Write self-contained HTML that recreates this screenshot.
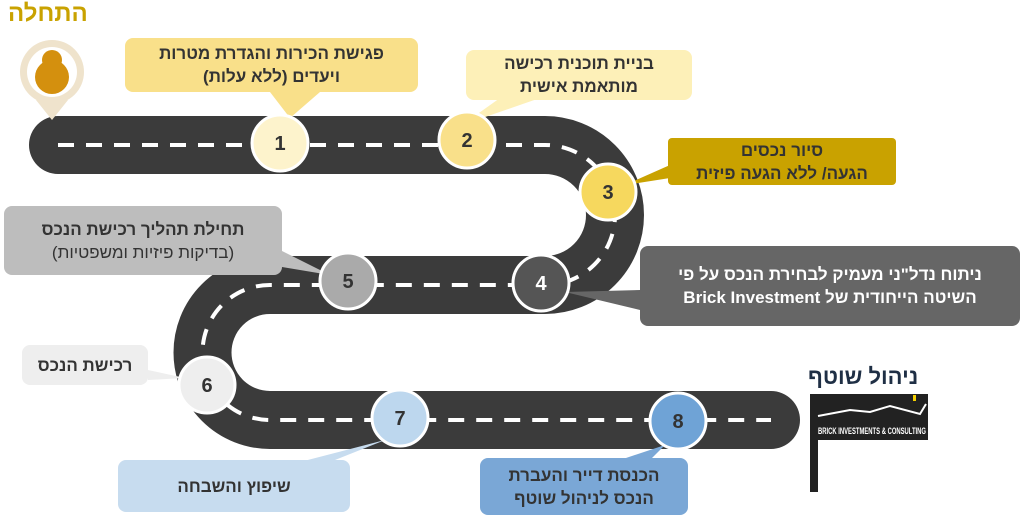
<!DOCTYPE html>
<html><head><meta charset="utf-8"><style>
body{margin:0;width:1024px;height:520px;background:#fff;overflow:hidden;position:relative;font-family:"Liberation Sans","Noto Sans CJK SC",sans-serif}
.b{position:absolute;border-radius:8px;display:flex;align-items:center;justify-content:center;text-align:center;font-weight:bold;font-size:17px;line-height:23px;direction:rtl}
</style></head><body>
<svg width="1024" height="520" style="position:absolute;left:0;top:0">
<g fill="none" stroke-linecap="round">
<path d="M58 145 L545 145 A70 70 0 0 1 545 285 L270 285 A67.5 67.5 0 0 0 270 420 L771 420" stroke="#3b3b3b" stroke-width="58"/>
<path d="M58 145 L545 145 A70 70 0 0 1 545 285 L270 285 A67.5 67.5 0 0 0 270 420 L771 420" stroke="#fff" stroke-width="4" stroke-dasharray="16 12" stroke-linecap="butt"/>
</g>
<polygon points="270,92 320,92 290,118" fill="#f9e08a"/>
<polygon points="500,98 540,98 462,125" fill="#fdf0b8"/>
<polygon points="670,165 670,178 625,185" fill="#c9a200"/>
<polygon points="640,290 640,310 565,292" fill="#666"/>
<polygon points="270,245 270,265 330,275" fill="#bdbdbd"/>
<polygon points="148,370 148,380 185,378" fill="#eee"/>
<polygon points="300,462 330,462 385,440" fill="#c7dcef"/>
<polygon points="620,460 650,460 665,445" fill="#7aa7d6"/>
<path d="M36 100 L52 120 L68 100 Z" fill="#efe3cc"/>
<circle cx="52" cy="72" r="32" fill="#efe3cc"/>
<circle cx="52" cy="72" r="25" fill="#fff"/>
<circle cx="52" cy="77" r="17" fill="#d4900e"/>
<circle cx="52" cy="60" r="10" fill="#d4900e"/>
<g stroke="#fff" stroke-width="3">
<circle cx="280" cy="143" r="28" fill="#fdf3cc"/>
<circle cx="467" cy="140" r="28" fill="#f9e08a"/>
<circle cx="608" cy="192" r="28" fill="#f6d85e"/>
<circle cx="541" cy="283" r="28" fill="#555"/>
<circle cx="348" cy="281" r="28" fill="#aaa"/>
<circle cx="207" cy="385" r="28" fill="#eee"/>
<circle cx="400" cy="418" r="28" fill="#bdd7ee"/>
<circle cx="678" cy="421" r="28" fill="#6fa3d6"/>
</g>
<g font-family="Liberation Sans" font-weight="bold" font-size="20" text-anchor="middle" fill="#333">
<text x="280" y="150">1</text><text x="467" y="147">2</text><text x="608" y="199">3</text>
<text x="541" y="290" fill="#fff">4</text><text x="348" y="288">5</text><text x="207" y="392">6</text>
<text x="400" y="425">7</text><text x="678" y="428">8</text>
</g>
<rect x="810" y="394" width="8" height="98" fill="#222"/>
<rect x="810" y="394" width="118" height="46" fill="#222"/>
<polyline points="818,416 850,410 870,412 890,406 920,414 926,404" stroke="#fff" stroke-width="2" fill="none"/>
<rect x="913" y="395" width="3" height="6" fill="#f5d000"/>
<text x="818" y="434" font-size="9" fill="#fff" font-family="Liberation Sans" font-weight="bold" textLength="108" lengthAdjust="spacingAndGlyphs">BRICK INVESTMENTS &amp; CONSULTING</text>
</svg>
<div style="position:absolute;left:8px;top:0;font-size:24px;font-weight:bold;color:#c9a200">התחלה</div>
<div style="position:absolute;left:808px;top:364px;font-size:22px;font-weight:bold;color:#1f2f45">ניהול שוטף</div>
<div class="b" style="left:125px;top:38px;width:293px;height:54px;background:#f9e08a;color:#333"><div>פגישת הכירות והגדרת מטרות<br>ויעדים (ללא עלות)</div></div>
<div class="b" style="left:466px;top:50px;width:226px;height:50px;background:#fdf0b8;color:#333"><div>בניית תוכנית רכישה<br>מותאמת אישית</div></div>
<div class="b" style="left:668px;top:138px;width:228px;height:47px;background:#c9a200;color:#333;border-radius:4px"><div>סיור נכסים<br>הגעה/ ללא הגעה פיזית</div></div>
<div class="b" style="left:640px;top:246px;width:380px;height:80px;background:#666;color:#fff"><div>ניתוח נדל"ני מעמיק לבחירת הנכס על פי<br>השיטה הייחודית של Brick Investment</div></div>
<div class="b" style="left:4px;top:206px;width:278px;height:69px;background:#bdbdbd;color:#333"><div>תחילת תהליך רכישת הנכס<br><span style="font-weight:normal">(בדיקות פיזיות ומשפטיות)</span></div></div>
<div class="b" style="left:22px;top:345px;width:126px;height:40px;background:#eee;color:#333"><div>רכישת הנכס</div></div>
<div class="b" style="left:118px;top:460px;width:232px;height:52px;background:#c7dcef;color:#333"><div>שיפוץ והשבחה</div></div>
<div class="b" style="left:480px;top:458px;width:208px;height:57px;background:#7aa7d6;color:#333"><div>הכנסת דייר והעברת<br>הנכס לניהול שוטף</div></div>
</body></html>
